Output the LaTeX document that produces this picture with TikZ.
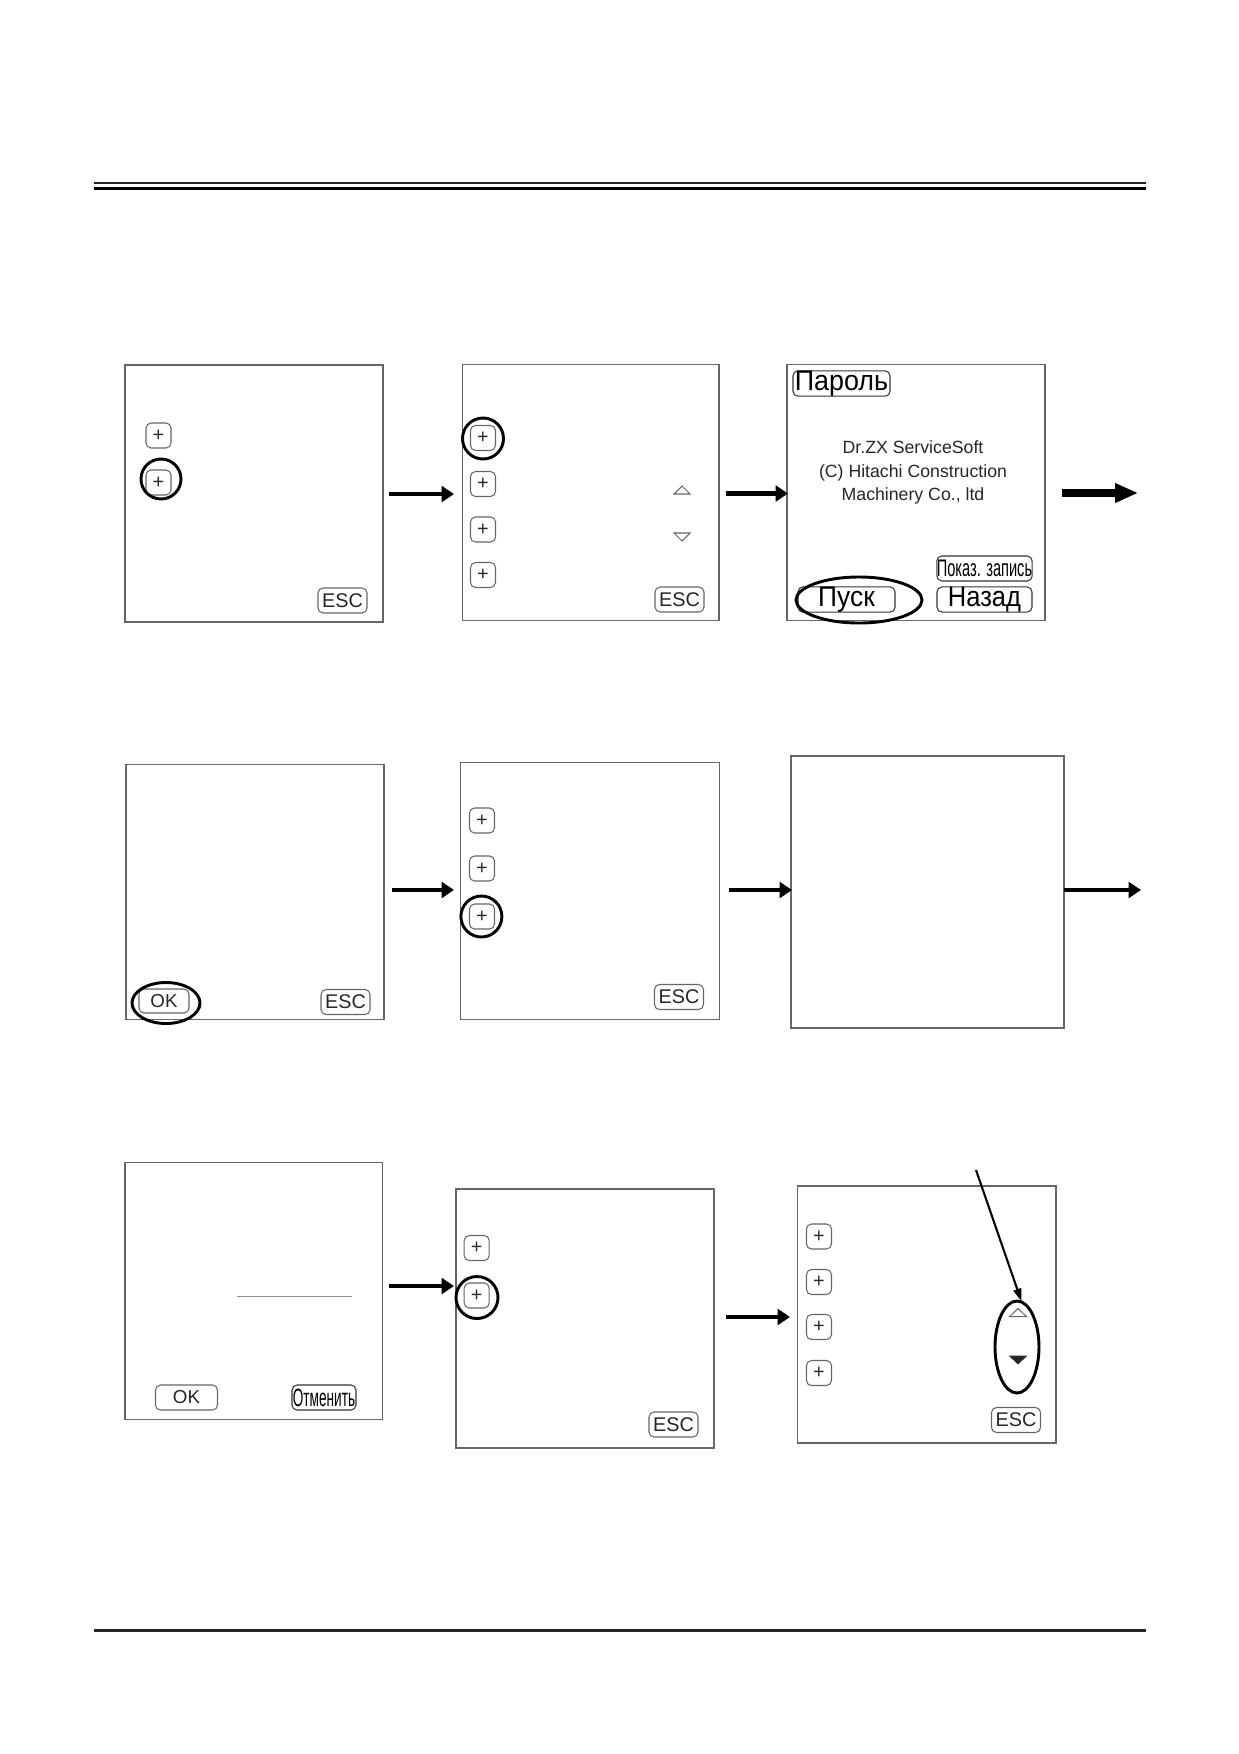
\documentclass[tikz,border=0pt]{standalone}
\usepackage{fontspec}
\setmainfont{Liberation Sans}
\usetikzlibrary{arrows.meta,shapes.geometric,calc}
\begin{document}
\begin{tikzpicture}[x=0.48pt,y=-0.48pt,
  sz/.style 2 args={minimum width={#1*0.48pt},minimum height={#2*0.48pt}},
  screen/.style={draw=black!60,line width=0.65pt,inner sep=0pt,outer sep=0pt},
  btn/.style={draw=black!60,line width=0.5pt,rounded corners=2.4pt,inner sep=0pt,outer sep=0pt,text=black!85},
  pbtn/.style={btn,sz={25}{25},font=\fontsize{9.5}{9.5}\selectfont},
  escbtn/.style={btn,sz={49}{25},font=\fontsize{9.5}{9.5}\selectfont},
  okbtn/.style={btn,font=\fontsize{9}{9}\selectfont},
  bigbtn/.style={btn,draw=black!80,font=\fontsize{13.6}{13.6}\selectfont,text=black},
  hl/.style={draw=black,line width=1.4pt,inner sep=0pt,outer sep=0pt},
  flow/.style={line width=2.1pt,-{Triangle[length=5.9pt,width=7.5pt]}},
  bigflow/.style={line width=3.9pt,-{Triangle[length=11pt,width=8.8pt]}},
  pointer/.style={line width=1pt,-{Triangle[length=6.2pt,width=3.8pt]}},
  tri/.style={draw=black!60,line width=0.5pt},
  trifill/.style={fill=black!85,draw=black!85,line width=0.3pt}
]
\useasboundingbox (0,0) rectangle (1239,1754);

% header and footer rules
\coordinate (h1a) at (94,182.7); \coordinate (h1b) at (1146,182.7);
\coordinate (h2a) at (94,188.7); \coordinate (h2b) at (1146,188.7);
\coordinate (f1a) at (94,1630.5); \coordinate (f1b) at (1146,1630.5);
\draw[line width=0.8pt,black!85] (h1a) -- (h1b);
\draw[line width=1.6pt,black] (h2a) -- (h2b);
\draw[line width=1pt,black!85] (f1a) -- (f1b);

% ---------- Row 1 ----------
\node[screen,sz={258}{257}] (b1) at (254,493.5) {};
\node[pbtn] (b1p1) at (158.5,435.5) {+};
\node[pbtn] (b1p2) at (158.5,482.5) {+};
\node[hl,circle,minimum size={40*0.48pt}] (b1c) at (161,479) {};
\node[escbtn] (b1esc) at (342.5,600.5) {ESC};

\node[screen,sz={256.5}{256}] (b2) at (590.8,492.6) {};
\node[pbtn] (b2p1) at (483,438) {+};
\node[pbtn] (b2p2) at (483,484) {+};
\node[pbtn] (b2p3) at (483,529.5) {+};
\node[pbtn] (b2p4) at (483,575) {+};
\node[hl,circle,minimum size={41*0.48pt}] (b2c) at (483,438.5) {};
\coordinate (b2u) at (682,490);
\coordinate (b2d) at (682,537);
\draw[tri] ($(b2u)+(-8,4)$) -- ($(b2u)+(8,4)$) -- ($(b2u)+(0,-4)$) -- cycle;
\draw[tri] ($(b2d)+(-8,-4)$) -- ($(b2d)+(8,-4)$) -- ($(b2d)+(0,4)$) -- cycle;
\node[escbtn] (b2esc) at (679.5,599.5) {ESC};

\node[screen,sz={258}{256}] (b3) at (916,492.5) {};
\node[bigbtn,sz={97}{25}] (pwd) at (841.5,383.5) {\raisebox{-1.5pt}{\scalebox{0.95}[1]{Пароль}}};
\node[align=center,font=\fontsize{8.5}{11.3}\selectfont,text=black!85] (b3t) at (913,472.5)
  {Dr.ZX ServiceSoft\\(C) Hitachi Construction\\Machinery Co., ltd};
\node[btn,draw=black!80,text=black,sz={95}{25},font=\fontsize{11.5}{11.5}\selectfont] (show) at (984.5,568.5) {\scalebox{0.61}[1]{Показ. запись}};
\node[bigbtn,sz={97}{25}] (start) at (846.5,599.5) {\raisebox{-1pt}{\scalebox{0.93}[1]{Пуск}}};
\node[bigbtn,sz={95}{25}] (back) at (984.5,599.5) {\raisebox{-1pt}{\scalebox{0.9}[1]{Назад}}};
\node[hl,ellipse,sz={126}{46}] (b3e) at (859,600) {};

\coordinate (r1a1s) at (389,494); \coordinate (r1a1e) at (454,494);
\coordinate (r1a2s) at (726,493.5); \coordinate (r1a2e) at (788,493.5);
\coordinate (r1a3s) at (1062,493); \coordinate (r1a3e) at (1138,493);
\draw[flow] (r1a1s) -- (r1a1e);
\draw[flow] (r1a2s) -- (r1a2e);
\draw[bigflow] (r1a3s) -- (r1a3e);

% ---------- Row 2 ----------
\node[screen,sz={258}{255.5}] (b4) at (255,892) {};
\node[okbtn,sz={50}{24}] (b4ok) at (164,1001) {OK};
\node[hl,ellipse,sz={68}{41}] (b4e) at (166,1003) {};
\node[escbtn] (b4esc) at (345.5,1002) {ESC};

\node[screen,sz={258.5}{257.5}] (b5) at (590,891) {};
\node[pbtn] (b5p1) at (482,820.5) {+};
\node[pbtn] (b5p2) at (482,868.5) {+};
\node[pbtn] (b5p3) at (482,916.5) {+};
\node[hl,circle,minimum size={41*0.48pt}] (b5c) at (481.4,916.5) {};
\node[escbtn] (b5esc) at (679,997) {ESC};

\node[screen,sz={273}{272}] (b6) at (927.5,892) {};

\coordinate (r2a1s) at (391.5,890); \coordinate (r2a1e) at (454,890);
\coordinate (r2a2s) at (729,890); \coordinate (r2a2e) at (792,890);
\coordinate (r2a3s) at (1064,890); \coordinate (r2a3e) at (1141,890);
\draw[flow] (r2a1s) -- (r2a1e);
\draw[flow] (r2a2s) -- (r2a2e);
\draw[flow] (r2a3s) -- (r2a3e);

% ---------- Row 3 ----------
\node[screen,sz={257.5}{257.5}] (b7) at (253.8,1291) {};
\coordinate (b7la) at (237,1296.7); \coordinate (b7lb) at (351.7,1296.7);
\draw[black!45,line width=0.4pt] (b7la) -- (b7lb);
\node[okbtn,sz={62}{25}] (b7ok) at (186.5,1397.5) {OK};
\node[btn,draw=black!80,text=black,sz={64}{25},font=\fontsize{12}{12}\selectfont] (cancel) at (324,1397.5) {\scalebox{0.545}[1]{Отменить}};

\node[screen,sz={258}{259}] (b8) at (585,1318.5) {};
\node[pbtn] (b8p1) at (476.7,1248) {+};
\node[pbtn] (b8p2) at (476.7,1295.5) {+};
\node[hl,circle,minimum size={42*0.48pt}] (b8c) at (477,1297.5) {};
\node[escbtn] (b8esc) at (673.5,1424.5) {ESC};

\node[screen,sz={258.5}{257}] (b9) at (926.6,1314.5) {};
\node[pbtn] (b9p1) at (819,1236.5) {+};
\node[pbtn] (b9p2) at (819,1282) {+};
\node[pbtn] (b9p3) at (819,1327) {+};
\node[pbtn] (b9p4) at (819,1373) {+};
\coordinate (b9u) at (1018,1312.5);
\coordinate (b9d) at (1018,1360);
\draw[tri] ($(b9u)+(-8.5,4.2)$) -- ($(b9u)+(8.5,4.2)$) -- ($(b9u)+(0,-4.2)$) -- cycle;
\draw[trifill] ($(b9d)+(-8.5,-4)$) -- ($(b9d)+(8.5,-4)$) -- ($(b9d)+(0,4)$) -- cycle;
\node[hl,ellipse,sz={44}{92}] (b9e) at (1017,1347) {};
\node[escbtn] (b9esc) at (1016,1420) {ESC};
\coordinate (ptrs) at (976,1170);
\coordinate (ptre) at (1021.5,1301.5);
\draw[pointer] (ptrs) -- (ptre);

\coordinate (r3a1s) at (389,1286); \coordinate (r3a1e) at (454,1286);
\coordinate (r3a2s) at (726,1317); \coordinate (r3a2e) at (790,1317);
\draw[flow] (r3a1s) -- (r3a1e);
\draw[flow] (r3a2s) -- (r3a2e);
\end{tikzpicture}
\end{document}
